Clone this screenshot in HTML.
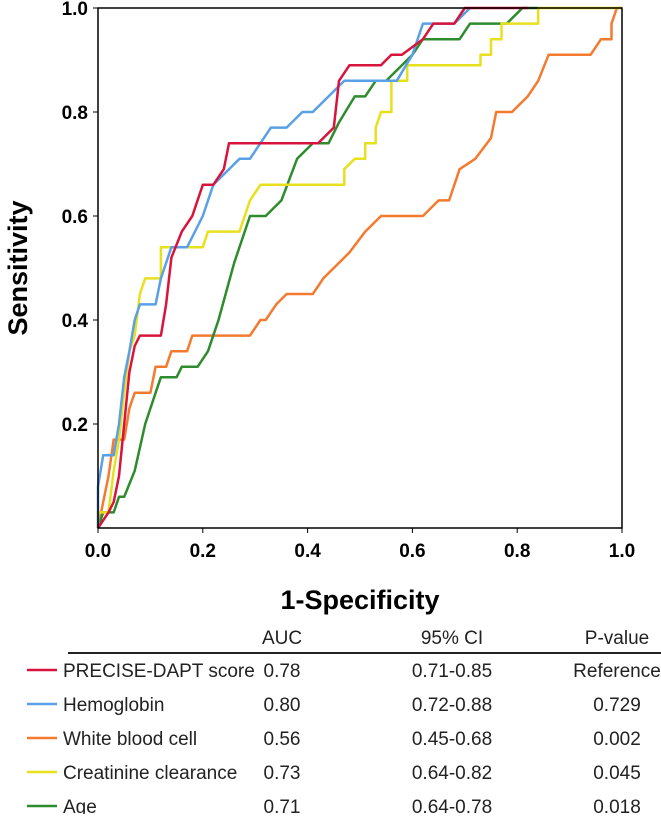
<!DOCTYPE html>
<html><head><meta charset="utf-8"><style>
html,body{margin:0;padding:0;background:#fff;}
body{width:661px;height:814px;overflow:hidden;font-family:"Liberation Sans",Arial,sans-serif;}
</style></head><body>
<svg id="chart" width="661" height="814" viewBox="0 0 661 814" font-family="Liberation Sans, Arial, sans-serif">
<g id="grid"></g>
<g id="series"></g>
<g id="axes"></g>
<g id="table"></g>
</svg>
<script>
const xTicks=[0,0.2,0.4,0.6,0.8,1.0];
const yTicks=[0.2,0.4,0.6,0.8,1.0];
const seriesNames=["PRECISE-DAPT score","Hemoglobin","White blood cell","Creatinine clearance","Age"];
const seriesColors=["#d8143c","#5aa0e6","#f47a30","#e8e01c","#2e8b2e"];
const aucVals=["0.78","0.80","0.56","0.73","0.71"];
const ciVals=["0.71-0.85","0.72-0.88","0.45-0.68","0.64-0.82","0.64-0.78"];
const pVals=["Reference","0.729","0.002","0.045","0.018"];
const orangeFpr=[0,0.01,0.02,0.03,0.05,0.06,0.07,0.10,0.11,0.13,0.14,0.17,0.18,0.29,0.31,0.32,0.34,0.36,0.41,0.43,0.48,0.51,0.54,0.62,0.65,0.67,0.69,0.72,0.75,0.76,0.79,0.82,0.84,0.86,0.94,0.96,0.98,0.98,0.99,1];
const orangeTpr=[0,0.05,0.10,0.17,0.17,0.23,0.26,0.26,0.31,0.31,0.34,0.34,0.37,0.37,0.40,0.40,0.43,0.45,0.45,0.48,0.53,0.57,0.60,0.60,0.63,0.63,0.69,0.71,0.75,0.80,0.80,0.83,0.86,0.91,0.91,0.94,0.94,0.97,1,1];
const greenFpr=[0,0.01,0.03,0.04,0.05,0.07,0.09,0.11,0.12,0.15,0.16,0.19,0.21,0.23,0.26,0.29,0.32,0.35,0.38,0.41,0.44,0.46,0.49,0.51,0.53,0.55,0.58,0.60,0.62,0.69,0.71,0.78,0.81,0.84];
const greenTpr=[0,0.03,0.03,0.06,0.06,0.11,0.20,0.26,0.29,0.29,0.31,0.31,0.34,0.40,0.51,0.60,0.60,0.63,0.71,0.74,0.74,0.78,0.83,0.83,0.86,0.86,0.89,0.91,0.94,0.94,0.97,0.97,1,1];
const yellowFpr=[0,0,0.02,0.03,0.04,0.05,0.06,0.07,0.08,0.09,0.12,0.12,0.2,0.21,0.27,0.28,0.29,0.31,0.47,0.47,0.49,0.51,0.51,0.53,0.53,0.54,0.56,0.56,0.59,0.59,0.73,0.73,0.75,0.75,0.77,0.77,0.84,0.84,1];
const yellowTpr=[0,0.03,0.03,0.11,0.17,0.26,0.34,0.37,0.45,0.48,0.48,0.54,0.54,0.57,0.57,0.60,0.63,0.66,0.66,0.69,0.71,0.71,0.74,0.74,0.77,0.80,0.80,0.86,0.86,0.89,0.89,0.91,0.91,0.94,0.94,0.97,0.97,1,1];
const blueFpr=[0,0,0.01,0.03,0.04,0.05,0.06,0.07,0.08,0.11,0.12,0.14,0.17,0.2,0.22,0.25,0.27,0.29,0.31,0.33,0.36,0.39,0.41,0.44,0.47,0.57,0.60,0.62,0.68,0.71];
const blueTpr=[0,0.08,0.14,0.14,0.2,0.29,0.34,0.40,0.43,0.43,0.48,0.54,0.54,0.60,0.66,0.69,0.71,0.71,0.74,0.77,0.77,0.80,0.80,0.83,0.86,0.86,0.91,0.97,0.97,1.0];
const redFpr=[0,0.02,0.03,0.04,0.05,0.06,0.07,0.08,0.12,0.13,0.14,0.16,0.18,0.2,0.22,0.24,0.25,0.42,0.45,0.46,0.48,0.54,0.56,0.58,0.62,0.64,0.68,0.70,0.82];
const redTpr=[0,0.03,0.05,0.10,0.20,0.30,0.35,0.37,0.37,0.43,0.52,0.57,0.60,0.66,0.66,0.69,0.74,0.74,0.77,0.86,0.89,0.89,0.91,0.91,0.94,0.97,0.97,1.0,1.0];

const X0=98,X1=622,Y0=528,Y1=8;
const sx=v=>X0+v*(X1-X0);
const sy=v=>Y0-v*(Y0-Y1);
const NS="http://www.w3.org/2000/svg";
function mk(tag,attrs,parent,text){const e=document.createElementNS(NS,tag);for(const k in attrs)e.setAttribute(k,attrs[k]);if(text!==undefined)e.textContent=text;parent.appendChild(e);return e;}
const axes=document.getElementById('axes'),series=document.getElementById('series'),table=document.getElementById('table');

const order=[[orangeFpr,orangeTpr,2],[greenFpr,greenTpr,4],[yellowFpr,yellowTpr,3],[blueFpr,blueTpr,1],[redFpr,redTpr,0]];
order.forEach(([fx,ty,i])=>{
  const pts=fx.map((v,j)=>sx(v).toFixed(1)+","+sy(ty[j]).toFixed(1)).join(" ");
  const pl=mk('polyline',{points:pts,fill:'none',stroke:seriesColors[i],'stroke-width':2.5,'stroke-linejoin':'round'},series);
  
  
});

const frame=mk('rect',{x:X0,y:Y1,width:X1-X0,height:Y0-Y1,fill:'none',stroke:'#000','stroke-width':1.5},axes);


xTicks.forEach(v=>{
  mk('line',{x1:sx(v),x2:sx(v),y1:Y0,y2:Y0+5,stroke:'#000','stroke-width':1},axes);
  const t=mk('text',{x:sx(v),y:557,'text-anchor':'middle','font-size':19,'font-weight':'bold'},axes,v.toFixed(1));
  
  
});
yTicks.forEach(v=>{
  mk('line',{x1:X0-5,x2:X0,y1:sy(v),y2:sy(v),stroke:'#000','stroke-width':1},axes);
  const t=mk('text',{x:88,y:sy(v)+7,'text-anchor':'end','font-size':19,'font-weight':'bold'},axes,v.toFixed(1));
  
  
});
const xt=mk('text',{x:360,y:609,'text-anchor':'middle','font-size':27,'font-weight':'bold'},axes,'1-Specificity');


const yt=mk('text',{x:0,y:0,transform:'translate(27,268) rotate(-90)','text-anchor':'middle','font-size':27,'font-weight':'bold'},axes,'Sensitivity');



const colX=[282,452,617];
["AUC","95% CI","P-value"].forEach((h,i)=>{
  const t=mk('text',{x:colX[i],y:644,'text-anchor':'middle','font-size':19,fill:'#222'},table,h);
  
  
});
const hl=mk('line',{x1:68,x2:661,y1:653,y2:653,stroke:'#222','stroke-width':2},table);


seriesNames.forEach((n,i)=>{
  const y=670+i*34;
  const sw=mk('line',{x1:27,x2:57,y1:y,y2:y,stroke:seriesColors[i],'stroke-width':2.5},table);
  
  
  const lb=mk('text',{x:63,y:y+7,'font-size':19,fill:'#222'},table,n);
  
  
  [aucVals[i],ciVals[i],pVals[i]].forEach((v,k)=>{
    const c=mk('text',{x:colX[k],y:y+7,'text-anchor':'middle','font-size':19,fill:'#222'},table,v);
    
    
  });
});
</script>
</body></html>
